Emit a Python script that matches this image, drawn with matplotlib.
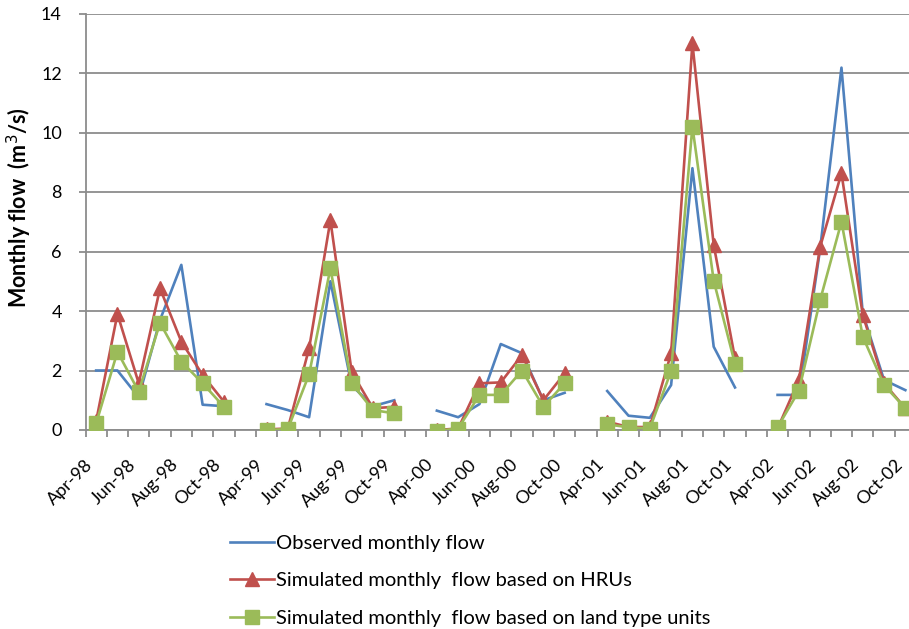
import numpy as np
import matplotlib
matplotlib.use("Agg")
import matplotlib.pyplot as plt
import matplotlib.transforms as mtransforms

nan = np.nan

categories = [
    "Apr-98", "May-98", "Jun-98", "Jul-98", "Aug-98", "Sep-98", "Oct-98", "",
    "Apr-99", "May-99", "Jun-99", "Jul-99", "Aug-99", "Sep-99", "Oct-99", "",
    "Apr-00", "May-00", "Jun-00", "Jul-00", "Aug-00", "Sep-00", "Oct-00", "",
    "Apr-01", "May-01", "Jun-01", "Jul-01", "Aug-01", "Sep-01", "Oct-01", "",
    "Apr-02", "May-02", "Jun-02", "Jul-02", "Aug-02", "Sep-02", "Oct-02",
]

observed = [
    2.0, 2.0, 1.1, 3.7, 5.55, 0.85, 0.8, nan,
    0.87, 0.67, 0.43, 5.0, 1.5, 0.8, 1.0, nan,
    0.65, 0.43, 0.87, 2.89, 2.58, 1.0, 1.25, nan,
    1.31, 0.48, 0.41, 1.51, 8.8, 2.8, 1.43, nan,
    1.18, 1.18, 6.1, 12.18, 3.92, 1.68, 1.34,
]

sim_hru = [
    0.3, 3.9, 1.57, 4.76, 2.97, 1.85, 0.95, nan,
    0.02, 0.05, 2.74, 7.05, 1.95, 0.73, 0.78, nan,
    0.0, 0.05, 1.57, 1.6, 2.52, 1.0, 1.9, nan,
    0.28, 0.1, 0.1, 2.58, 13.0, 6.22, 2.41, nan,
    0.05, 1.68, 6.16, 8.63, 3.87, 1.57, 0.73,
]

sim_ltu = [
    0.22, 2.63, 1.29, 3.6, 2.3, 1.57, 0.78, nan,
    0.0, 0.03, 1.87, 5.43, 1.57, 0.67, 0.56, nan,
    -0.03, 0.05, 1.18, 1.18, 2.0, 0.78, 1.57, nan,
    0.19, 0.09, 0.05, 1.98, 10.2, 5.02, 2.22, nan,
    0.09, 1.32, 4.37, 7.0, 3.14, 1.51, 0.73,
]

plt.rcParams['font.family'] = ['Lato', 'DejaVu Sans']

W, H = 909, 629
fig = plt.figure(figsize=(W / 100, H / 100), dpi=100)
# plot area: x 85.5..916 px, y 13.5..430 px (chart is cut off on the right)
ax = fig.add_axes([85.5 / W, (H - 430) / H, 830.5 / W, 416.5 / H])

grid_c = '#8c8c8c'
x = np.arange(len(categories))

ax.plot(x, observed, color='#4F81BD', lw=1.9, label='Observed monthly flow', zorder=3)
ax.plot(x, sim_hru, color='#C0504D', lw=1.9, marker='^', ms=9.5,
        mfc='#C0504D', mec='#C0504D', label='Simulated monthly  flow based on HRUs', zorder=4)
ax.plot(x, sim_ltu, color='#9BBB59', lw=1.9, marker='s', ms=10,
        mfc='#9BBB59', mec='#9BBB59', label='Simulated monthly  flow based on land type units', zorder=5)

ax.set_xlim(-0.5, len(categories) - 0.5)
ax.set_ylim(0, 14)
ax.set_yticks(np.arange(0, 15, 2))
ax.yaxis.grid(True, color=grid_c, lw=1.3)
ax.set_axisbelow(True)

ax.set_xticks(x[::2])
ax.set_xticklabels(categories[::2], rotation=45, ha='right', va='top', fontsize=13)
shift = mtransforms.ScaledTranslation(6 / 100, 0, fig.dpi_scale_trans)
for lab in ax.get_xticklabels():
    lab.set_transform(lab.get_transform() + shift)
ax.set_xticks(np.arange(-0.5, len(categories), 1), minor=True)
ax.tick_params(axis='x', which='major', length=0, pad=19)
ax.tick_params(axis='x', which='minor', length=5, color=grid_c, width=1.3)
ax.tick_params(axis='y', length=5, color=grid_c, width=1.3, pad=12, labelsize=13)

for s in ['top', 'right']:
    ax.spines[s].set_visible(False)
for s in ['left', 'bottom']:
    ax.spines[s].set_color(grid_c)
    ax.spines[s].set_linewidth(1.3)

ax.set_ylabel('Monthly flow  (m$^3$/s)', fontsize=15.5, fontweight='bold')
ax.yaxis.set_label_coords(-0.062, 0.535)

fig.legend(loc='upper left', bbox_to_anchor=(222 / W, 1 - 527 / H), frameon=False,
           fontsize=14.5, handlelength=2.2, handletextpad=0.1, labelspacing=1.0,
           borderaxespad=0)

fig.savefig('out.png', dpi=100)
